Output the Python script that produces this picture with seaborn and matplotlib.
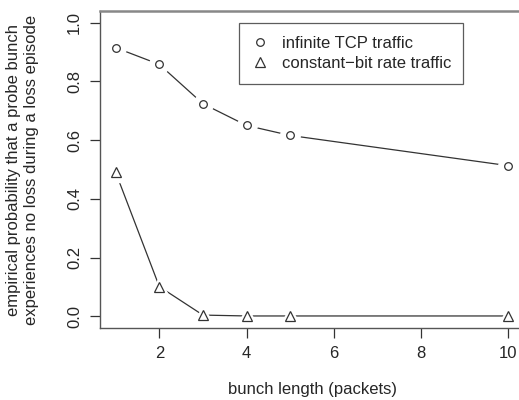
import matplotlib
matplotlib.use("Agg")
import matplotlib.pyplot as plt
import seaborn as sns
import pandas as pd
from matplotlib.lines import Line2D

bunch_length = [1, 2, 3, 4, 5, 10]
tcp_prob = [0.915, 0.858, 0.724, 0.650, 0.616, 0.513]
cbr_prob = [0.490, 0.101, 0.004, 0.001, 0.001, 0.001]
series_names = ["infinite TCP traffic", "constant\u2212bit rate traffic"]
x_ticks = [2, 4, 6, 8, 10]
y_ticks = [0.0, 0.2, 0.4, 0.6, 0.8, 1.0]

df = pd.DataFrame({
    "x": bunch_length * 2,
    "y": tcp_prob + cbr_prob,
    "series": [series_names[0]] * len(bunch_length) + [series_names[1]] * len(bunch_length),
})

sns.set_style("ticks")
plt.rcParams["font.family"] = ["Liberation Sans", "DejaVu Sans"]

fig = plt.figure(figsize=(5.19, 4.0), dpi=100)
ax = fig.add_axes([100/519, 1 - 328/400, 424/519, 317/400])

line_col = "#333333"
sns.lineplot(data=df, x="x", y="y", hue="series", palette=[line_col, line_col],
             legend=False, ax=ax, lw=0.9, zorder=1)
markers = ["o", "^"]
for name, m in zip(series_names, markers):
    sub = df[df["series"] == name]
    ax.plot(sub["x"], sub["y"], ls="none", marker=m, ms=14 if m == "o" else 15,
            mfc="white", mec="white", zorder=2)
    ax.plot(sub["x"], sub["y"], ls="none", marker=m, ms=5.5 if m == "o" else 6.5,
            mfc="white", mec=line_col, mew=0.9, zorder=3)

ax.set_xlim(0.64, 10.36)
ax.set_ylim(-0.04, 1.04)
ax.set_xticks(x_ticks)
ax.set_yticks(y_ticks)
ax.set_xticklabels([str(v) for v in x_ticks], fontsize=12)
ax.set_yticklabels([f"{v:.1f}" for v in y_ticks], fontsize=12, rotation=90, va="center")
ax.tick_params(direction="out", length=7, width=0.9, color=line_col, pad=6)
for s in ax.spines.values():
    s.set_color("#555555")
    s.set_linewidth(1.0)
ax.spines["top"].set_linewidth(1.8)
ax.spines["top"].set_color("#888888")

ax.set_xlabel("bunch length (packets)", fontsize=12, labelpad=15)
ax.set_ylabel("empirical probability that a probe bunch\nexperiences no loss during a loss episode",
              fontsize=12, labelpad=20, linespacing=1.25)

handles = [Line2D([], [], ls="none", marker=m, ms=5.5 if m == "o" else 6.5, mfc="white",
                  mec=line_col, mew=0.9) for m in markers]
leg = ax.legend(handles, series_names, loc="upper left",
                bbox_to_anchor=(239/519, 1 - 23/400), bbox_transform=fig.transFigure,
                frameon=True, fancybox=False, fontsize=12, handlelength=1.0,
                handletextpad=0.8, borderpad=0.75, labelspacing=0.35, borderaxespad=0)
leg.get_frame().set_edgecolor("#333333")
leg.get_frame().set_linewidth(0.9)

fig.savefig("out.png", dpi=100)
